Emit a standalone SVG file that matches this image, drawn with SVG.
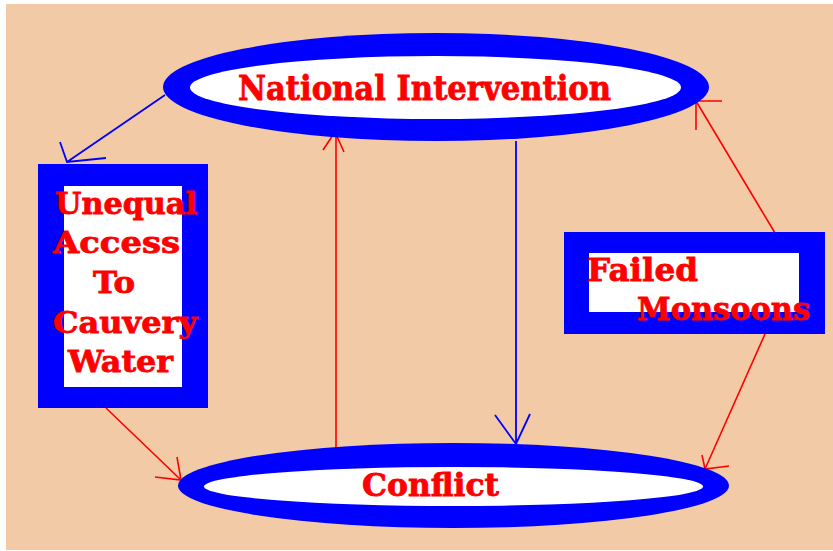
<svg xmlns="http://www.w3.org/2000/svg" width="833" height="551" viewBox="0 0 833 551">
<style>
.lbl{font-family:"DejaVu Serif","Liberation Serif",serif;font-weight:bold;fill:#FF0000;stroke:#FF0000;stroke-width:0.8}
.blue{fill:#0000FF}
.white{fill:#FFFFFF}
.r{stroke:#FF0000;stroke-width:1.6;fill:none}
.b{stroke:#0000FF;stroke-width:1.8;fill:none}
</style>
<rect x="0" y="0" width="833" height="551" fill="#FFFFFF"/>
<rect x="6" y="4" width="827" height="546" fill="#F2CAA5"/>
<g id="connectors">
<path class="b" d="M165,95 L67,162 M60,142 L67,162 L106,158"/>
<path class="r" d="M336,448 L336,133 M323,150 L335,132 L344,152"/>
<path class="b" d="M516,141 L516,444 M495,415 L516,444 L530,414"/>
<path class="r" d="M106,408 L181,480 M177,457 L181,480 L155,477"/>
<path class="r" d="M765,334 L705,469 M702,455 L705,469 L729,466"/>
<path class="r" d="M775,233 L696,101 M696,130 L696,101 L722,101"/>
</g>
<g id="national">
<ellipse class="blue" cx="436" cy="87" rx="273" ry="54"/>
<ellipse class="white" cx="435.5" cy="87.5" rx="245.5" ry="31.5"/>
<text class="lbl" x="238" y="100" font-size="34" textLength="373" lengthAdjust="spacingAndGlyphs">National Intervention</text>
</g>
<g id="conflict">
<ellipse class="blue" cx="453.5" cy="485.5" rx="275.5" ry="42.5"/>
<ellipse class="white" cx="453.5" cy="486.5" rx="249.5" ry="19.5"/>
<text class="lbl" x="362" y="496" font-size="31" textLength="137" lengthAdjust="spacingAndGlyphs">Conflict</text>
</g>
<g id="unequal">
<rect class="blue" x="38" y="164" width="170" height="244"/>
<rect class="white" x="64" y="186" width="118" height="201"/>
<text class="lbl" x="55" y="214" font-size="30" textLength="142" lengthAdjust="spacingAndGlyphs">Unequal</text>
<text class="lbl" x="53" y="253" font-size="30" textLength="127" lengthAdjust="spacingAndGlyphs">Access</text>
<text class="lbl" x="93" y="293" font-size="30" textLength="42" lengthAdjust="spacingAndGlyphs">To</text>
<text class="lbl" x="53" y="333" font-size="30" textLength="144" lengthAdjust="spacingAndGlyphs">Cauvery</text>
<text class="lbl" x="68" y="372" font-size="30" textLength="105" lengthAdjust="spacingAndGlyphs">Water</text>
</g>
<g id="monsoons">
<rect class="blue" x="564" y="232" width="261" height="102"/>
<rect class="white" x="589" y="253" width="210" height="59"/>
<text class="lbl" x="587" y="281" font-size="32" textLength="111" lengthAdjust="spacingAndGlyphs">Failed</text>
<text class="lbl" x="637" y="320" font-size="32" textLength="173" lengthAdjust="spacingAndGlyphs">Monsoons</text>
</g>
</svg>
